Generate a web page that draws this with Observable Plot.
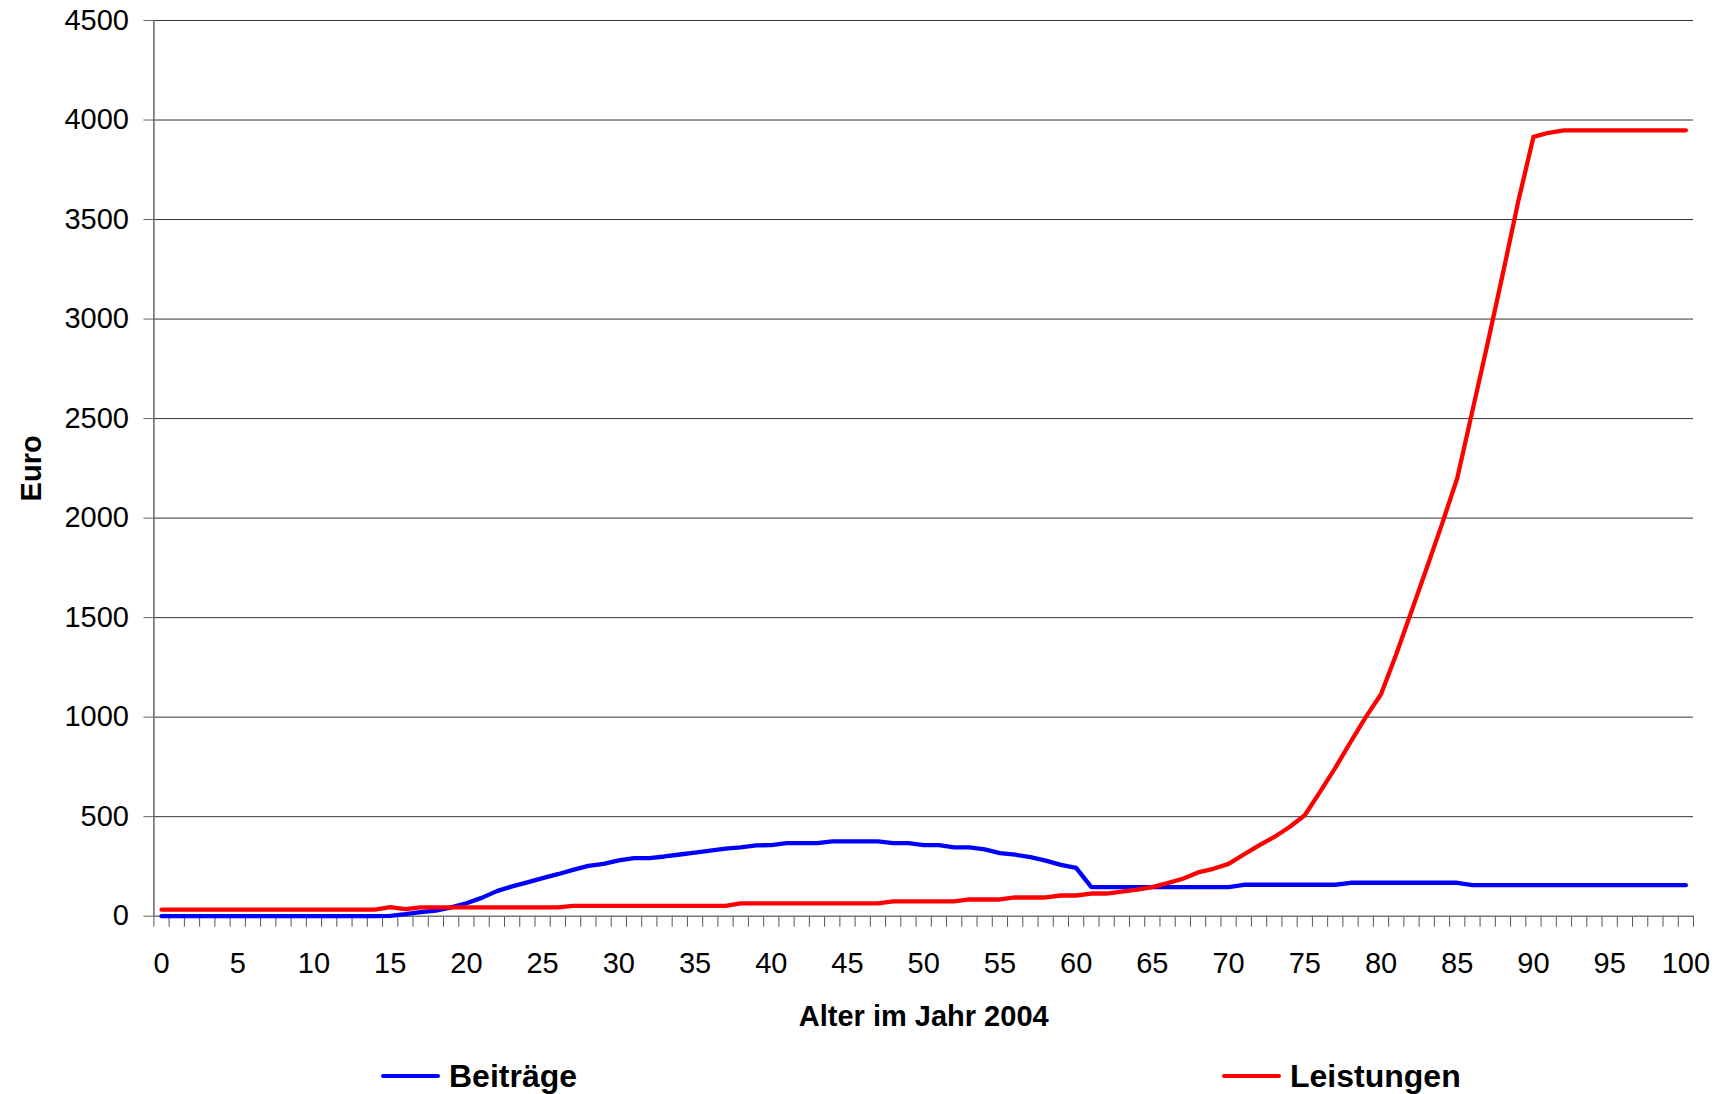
<!DOCTYPE html>
<html>
<head>
<meta charset="utf-8">
<script src="https://cdn.jsdelivr.net/npm/d3@7"></script>
<script src="https://cdn.jsdelivr.net/npm/@observablehq/plot@0.6"></script>
<style>
  html, body { margin: 0; padding: 0; background: #fff; }
  body { width: 1718px; height: 1094px; overflow: hidden; font-family: "Liberation Sans", Arial, sans-serif; }
  #wrap { position: relative; width: 1718px; height: 1094px; }
  #legend { position: relative; width: 1718px; height: 44px; }
  .item { position: absolute; top: 0; height: 44px; display: flex; align-items: center; font-weight: bold; font-size: 32px; color: #000; }
  .swatch { display: inline-block; width: 59px; height: 4px; border-radius: 2px; margin-right: 9px; }
</style>
</head>
<body>
<div id="wrap">
  <div id="chart"></div>
  <div id="legend"></div>
</div>
<script>
// Ages 0..100 (categories)
const ages = Array.from({length: 101}, (_, i) => i);
const xTickLabels = [0, 5, 10, 15, 20, 25, 30, 35, 40, 45, 50, 55, 60, 65, 70, 75, 80, 85, 90, 95, 100];
const yTicks = [0, 500, 1000, 1500, 2000, 2500, 3000, 3500, 4000, 4500];
const seriesNames = ["Beiträge", "Leistungen"];
const seriesColors = ["#0000ff", "#ff0000"];

// Beiträge, ages 0..100
const beitraege = [
  0, 0, 0, 0, 0, 0, 0, 0, 0, 0,
  0, 0, 0, 0, 0, 2, 10, 20, 28, 44,
  65, 92, 126, 150, 170, 191, 211, 233, 253, 263,
  280, 292, 292, 300, 310, 319, 329, 340, 346, 356,
  357, 367, 367, 367, 376, 376, 376, 376, 367, 367,
  357, 357, 346, 346, 336, 317, 309, 297, 279, 258,
  243, 146, 146, 146, 146, 146, 146, 146, 146, 146,
  146, 158, 158, 158, 158, 158, 158, 158, 168, 168,
  168, 168, 168, 168, 168, 168, 156, 156, 156, 156,
  156, 156, 156, 156, 156, 156, 156, 156, 156, 156,
  156
];

// Leistungen, ages 0..100
const leistungen = [
  33, 33, 33, 33, 33, 33, 33, 33, 33, 33,
  33, 33, 33, 33, 33, 45, 35, 44, 44, 44,
  44, 44, 44, 44, 44, 44, 44, 52, 52, 52,
  52, 52, 52, 52, 52, 52, 52, 52, 64, 64,
  64, 64, 64, 64, 64, 64, 64, 64, 74, 74,
  74, 74, 74, 84, 84, 84, 94, 94, 94, 104,
  104, 114, 114, 124, 134, 146, 166, 188, 220, 238,
  263, 310, 356, 398, 448, 507, 625, 745, 875, 1000,
  1115, 1316, 1532, 1749, 1970, 2200, 2540, 2880, 3230, 3590,
  3915, 3936, 3948, 3948, 3948, 3948, 3948, 3948, 3948, 3948,
  3948
];

const rows = [];
ages.forEach((a, i) => {
  rows.push({age: a, value: beitraege[i], series: seriesNames[0]});
  rows.push({age: a, value: leistungen[i], series: seriesNames[1]});
});

const boundaries = Array.from({length: ages.length + 1}, (_, i) => ages[0] - 0.5 + i);

const W = 1718, H = 1050;
const font = '"Liberation Sans", Arial, sans-serif';

const chart = Plot.plot({
  width: W,
  height: H,
  marginLeft: 153.4,
  marginRight: 25,
  marginTop: 20,
  marginBottom: H - 915.7,
  style: {fontFamily: font, fontSize: "29px", color: "#000", background: "#fff"},
  x: {domain: [-0.5, 100.5], axis: null},
  y: {domain: [0, 4500], axis: null},
  color: {domain: seriesNames, range: seriesColors},
  marks: [
    Plot.gridY(yTicks.filter(d => d > 0), {stroke: "#333", strokeOpacity: 1, strokeWidth: 1}),
    Plot.axisY({ticks: yTicks, label: null, tickSize: 10, tickPadding: 15, stroke: "#666", fill: "#000", fontSize: 29, tickFormat: d => String(d)}),
    Plot.axisX({ticks: boundaries, label: null, tickSize: 11, stroke: "#555", tickFormat: () => ""}),
    Plot.axisX({ticks: xTickLabels, label: null, tickSize: 0, tickPadding: 36, fill: "#000", fontSize: 29, tickFormat: d => String(d)}),
    Plot.ruleY([0], {stroke: "#777", strokeWidth: 1.5}),
    Plot.ruleX([-0.5], {stroke: "#666", strokeWidth: 1.5}),
    Plot.line(rows, {x: "age", y: "value", z: "series", stroke: "series", strokeWidth: 4.3, strokeLinejoin: "round", strokeLinecap: "round"}),
    Plot.text(["Euro"], {frameAnchor: "left", dx: -122, rotate: -90, textAnchor: "middle", fontWeight: "bold", fontSize: 29, fill: "#000"}),
    Plot.text(["Alter im Jahr 2004"], {frameAnchor: "bottom", dy: 101, lineAnchor: "middle", fontWeight: "bold", fontSize: 29, fill: "#000"})
  ]
});
document.getElementById("chart").appendChild(chart);

// Legend below the chart
const legend = document.getElementById("legend");
const legendLeft = [381, 1222];
seriesNames.forEach((name, i) => {
  const item = document.createElement("div");
  item.className = "item";
  item.style.left = legendLeft[i] + "px";
  item.style.top = "4px";
  const sw = document.createElement("span");
  sw.className = "swatch";
  sw.style.background = seriesColors[i];
  item.appendChild(sw);
  item.appendChild(document.createTextNode(name));
  legend.appendChild(item);
});
</script>
</body>
</html>
